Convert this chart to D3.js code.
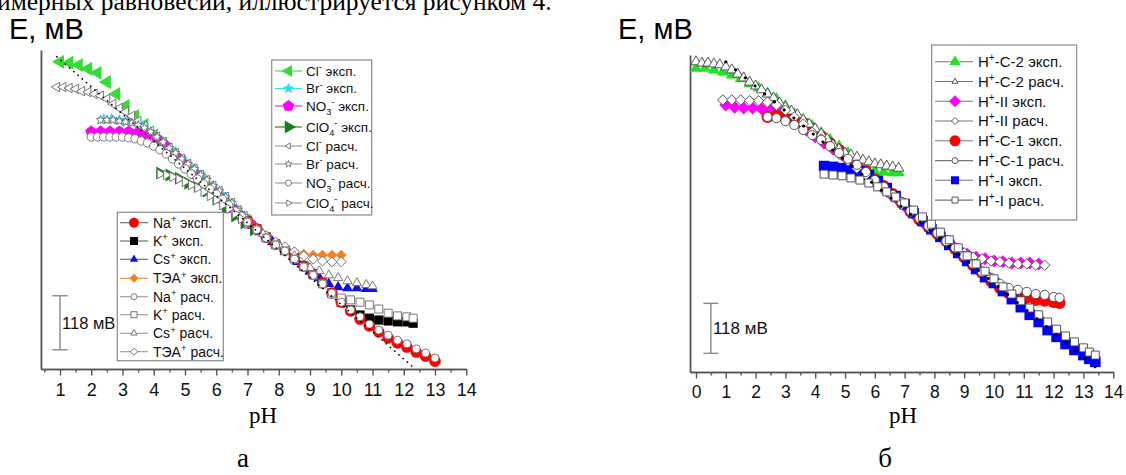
<!DOCTYPE html>
<html><head><meta charset="utf-8">
<script src="https://cdn.jsdelivr.net/npm/d3@7"></script>
<style>body{margin:0;background:#fff;} svg{display:block;}</style>
</head><body>
<svg id="c" width="1126" height="475"></svg>
<script>
// ---------- texts ----------
const captionText = "имерных равновесий, иллюстрируется рисунком 4.";
const yTitle = "E, мВ";
const xTitle = "pH";
const panelA = "а", panelB = "б";
const barLabel = "118 мВ";
const barLen = 118;
const ticksA = [1,2,3,4,5,6,7,8,9,10,11,12,13,14];
const ticksB = [0,1,2,3,4,5,6,7,8,9,10,11,12,13,14];

// ---------- chart а : anions ----------
const phA_Cl_exp = [1.0,1.3,1.6,1.9,2.2,2.5,2.8,3.1,3.4,3.7,4.0,4.3,4.6,4.9,5.2,5.5,5.8,6.1,6.4,6.7,7.0];
const eA_Cl_exp  = [671,669,664,656,647,627,601,575,553,533,511,492,472,452,435,417,398,378,358,341,323];
const phA_Br_exp = [2.4,2.65,2.9,3.15,3.4,3.65,3.9,4.15,4.4,4.65,4.9,5.15,5.4,5.65,5.9,6.15,6.4,6.65,6.9];
const eA_Br_exp  = [546,546,544,542,540,531,518,503,487,472,457,444,430,415,398,382,367,350,334];
const phA_NO3_exp = [2.0,2.3,2.6,2.9,3.2,3.5,3.8,4.1,4.4,4.7,5.0,5.3,5.6,5.9,6.2,6.5,6.8,7.1];
const eA_NO3_exp  = [518,518,518,518,518,516,511,503,487,465,446,426,406,389,371,352,334,317];
const phA_ClO4_exp = [4.2,4.5,4.8,5.1,5.4,5.7,6.0,6.3,6.6,6.9,7.2];
const eA_ClO4_exp  = [428,424,417,406,400,389,371,352,334,319,304];
const phA_Cl_calc = [0.9,1.1,1.3,1.5,1.7,1.9,2.1,2.3,2.5,2.7,2.9,3.1,3.3,3.5,3.7,3.9,4.1,4.3,4.5,4.7,4.9,5.1,5.3,5.5,5.7,5.9,6.1,6.3,6.5,6.7,6.9];
const eA_Cl_calc  = [616,616,614,612,607,605,601,597,590,579,570,562,553,542,531,520,507,496,483,472,459,448,437,424,413,400,389,376,363,347,334];
const phA_Br_calc = [2.3,2.5,2.7,2.9,3.1,3.3,3.5,3.7,3.9,4.1,4.3,4.5,4.7,4.9,5.1,5.3,5.5,5.7,5.9,6.1,6.3,6.5,6.7,6.9];
const eA_Br_calc  = [544,544,544,542,540,538,533,527,518,507,496,483,472,459,448,437,424,413,400,389,376,363,347,334];
const phA_NO3_calc = [2.0,2.2,2.4,2.6,2.8,3.0,3.2,3.4,3.6,3.8,4.0,4.2,4.4,4.6,4.8,5.0,5.2,5.4,5.6,5.8,6.0,6.2,6.4,6.6,6.8,7.0];
const eA_NO3_calc  = [507,507,507,507,507,507,505,503,498,494,487,479,470,459,448,437,426,415,404,393,382,371,358,345,334,321];
const phA_ClO4_calc = [4.2,4.4,4.6,4.8,5.0,5.2,5.4,5.6,5.8,6.0,6.2,6.4,6.6,6.8,7.0];
const eA_ClO4_calc  = [426,424,420,415,409,402,396,387,378,369,358,350,339,328,317];

// ---------- chart а : cations ----------
const phA_Na_exp = [7.0,7.3,7.6,7.9,8.2,8.5,8.8,9.1,9.4,9.7,10.0,10.3,10.6,10.9,11.2,11.5,11.8,12.1,12.4,12.7,13.0];
const eA_Na_exp  = [323,306,288,273,260,243,225,208,188,166,146,127,109,94,81,68,57,48,37,28,17];
const phA_K_exp = [7.0,7.3,7.6,7.9,8.2,8.5,8.8,9.1,9.4,9.7,10.0,10.3,10.6,10.9,11.2,11.5,11.8,12.1,12.3];
const eA_K_exp  = [323,306,288,273,260,243,225,208,188,166,146,129,118,111,107,105,103,103,100];
const phA_Cs_exp = [7.0,7.4,7.8,8.2,8.6,9.0,9.3,9.6,9.9,10.2,10.5,10.8,11.0];
const eA_Cs_exp  = [323,299,278,256,234,214,199,186,179,177,177,175,175];
const phA_TEA_exp = [7.0,7.3,7.6,7.9,8.2,8.5,8.8,9.1,9.4,9.7,10.0];
const eA_TEA_exp  = [323,308,291,275,264,256,251,249,249,249,249];
const phA_Na_calc = [7.0,7.3,7.6,7.9,8.2,8.5,8.8,9.1,9.4,9.7,10.0,10.3,10.6,10.9,11.2,11.5,11.8,12.1,12.4,12.7,13.0];
const eA_Na_calc  = [321,304,286,271,258,240,223,205,186,166,146,129,114,98,85,74,63,55,44,35,24];
const phA_K_calc = [7.0,7.3,7.6,7.9,8.2,8.5,8.8,9.1,9.4,9.7,10.0,10.3,10.6,10.9,11.2,11.5,11.8,12.1,12.3];
const eA_K_calc  = [321,304,286,271,258,240,223,205,186,164,155,151,146,140,131,122,116,114,111];
const phA_Cs_calc = [7.0,7.5,8.0,8.5,9.0,9.3,9.6,9.9,10.2,10.5,10.8,11.0];
const eA_Cs_calc  = [321,295,271,247,221,214,205,199,192,188,184,181];
const phA_TEA_calc = [7.0,7.3,7.6,7.9,8.2,8.5,8.8,9.1,9.4,9.7,10.0];
const eA_TEA_calc  = [323,306,291,277,267,256,247,240,236,234,234];
const phA_nernst = [0.9, 12.3];
const eA_nernst  = [682, 4];

// ---------- chart б ----------
const phB_C2_exp = [0.0,0.3,0.6,0.9,1.2,1.5,1.8,2.1,2.4,2.7,3.0,3.3,3.6,3.9,4.2,4.5,4.8,5.1,5.4,5.7,6.0,6.3,6.6,6.8];
const eB_C2_exp  = [717,717,713,708,701,692,680,670,658,644,628,609,595,581,564,548,533,517,498,484,474,472,470,470];
const phB_C2_calc = [0.0,0.2,0.4,0.6,0.8,1.0,1.2,1.4,1.6,1.8,2.0,2.2,2.4,2.6,2.8,3.0,3.2,3.4,3.6,3.8,4.0,4.2,4.4,4.6,4.8,5.0,5.2,5.4,5.6,5.8,6.0,6.2,6.4,6.6,6.8];
const eB_C2_calc  = [732,729,729,727,725,720,713,703,694,684,675,666,656,647,635,625,616,607,595,585,574,562,550,536,526,517,512,507,500,496,491,489,486,484,481];
const phB_II_exp = [1.0,1.3,1.6,1.9,2.2,2.5,2.8,3.1,3.4,3.7,4.0,4.3,4.6,4.9,5.2,5.5,5.8,6.1,6.4,6.7,7.0,7.3,7.6,7.9,8.2,8.5,8.8,9.1,9.4,9.7,10.0,10.3,10.6,10.9,11.2,11.5];
const eB_II_exp  = [630,625,623,623,621,618,611,602,588,571,555,540,526,512,496,479,463,444,427,411,392,373,354,337,321,304,290,278,271,267,262,260,257,257,257,255];
const phB_II_calc = [0.9,1.2,1.5,1.8,2.1,2.4,2.7,3.0,3.3,3.6,3.9,4.2,4.5,4.8,5.1,5.4,5.7,6.0,6.3,6.6,6.9,7.2,7.5,7.8,8.1,8.4,8.7,9.0,9.3,9.6,9.9,10.2,10.5,10.8,11.1,11.4,11.7];
const eB_II_calc  = [642,642,642,640,640,637,630,618,602,585,566,550,531,514,498,481,465,448,430,413,396,378,361,342,326,309,293,281,271,267,262,260,257,255,255,252,252];
const phB_C1_exp = [2.4,2.7,3.0,3.3,3.6,3.9,4.2,4.5,4.8,5.1,5.4,5.7,6.0,6.3,6.6,6.9,7.2,7.5,7.8,8.1,8.4,8.7,9.0,9.3,9.6,9.9,10.2,10.5,10.8,11.1,11.4,11.7,12.0,12.2];
const eB_C1_exp  = [602,604,604,597,588,574,557,540,524,505,491,474,455,439,420,399,378,359,342,326,309,290,271,252,234,215,198,186,179,175,170,168,165,163];
const phB_C1_calc = [2.4,2.7,3.0,3.3,3.6,3.9,4.2,4.5,4.8,5.1,5.4,5.7,6.0,6.3,6.6,6.9,7.2,7.5,7.8,8.1,8.4,8.7,9.0,9.3,9.6,9.9,10.2,10.5,10.8,11.1,11.4,11.7,12.0,12.2];
const eB_C1_calc  = [602,599,592,583,571,559,548,533,517,503,489,472,453,437,418,401,380,363,345,328,309,293,274,255,236,222,208,198,194,189,184,182,177,175];
const phB_I_exp = [4.3,4.6,4.9,5.2,5.5,5.8,6.1,6.4,6.7,7.0,7.3,7.6,7.9,8.2,8.5,8.8,9.1,9.4,9.7,10.0,10.3,10.6,10.9,11.2,11.5,11.8,12.1,12.4,12.7,13.0,13.2,13.4];
const eB_I_exp  = [486,484,481,479,474,465,451,434,415,396,375,356,337,319,300,281,262,243,224,210,191,172,153,135,118,99,83,66,52,40,31,24];
const phB_I_calc = [4.3,4.6,4.9,5.2,5.5,5.8,6.1,6.4,6.7,7.0,7.3,7.6,7.9,8.2,8.5,8.8,9.1,9.4,9.7,10.0,10.3,10.6,10.9,11.2,11.5,11.8,12.1,12.4,12.7,13.0,13.2,13.4];
const eB_I_calc  = [467,465,463,458,453,446,437,425,413,399,382,366,349,330,312,293,274,255,238,220,201,184,168,151,135,118,101,85,71,57,47,40];
const phB_nernst = [1.0, 13.4];
const eB_nernst  = [732, 12];

// legend labels (^ = superscript char, _ = subscript char)
const legAnions = ["Cl^- эксп.","Br^- эксп.","NO_3^- эксп.","ClO_4^- эксп.","Cl^- расч.","Br^- расч.","NO_3^- расч.","ClO_4^- расч."];
const legCations = ["Na^+ эксп.","K^+ эксп.","Cs^+ эксп.","ТЭА^+ эксп.","Na^+ расч.","K^+ расч.","Cs^+ расч.","ТЭА^+ расч."];
const legB = ["H^+-C-2 эксп.","H^+-C-2 расч.","H^+-II эксп.","H^+-II расч.","H^+-C-1 эксп.","H^+-C-1 расч.","H^+-I эксп.","H^+-I расч."];

// ---------- drawing ----------
const SANS = "'Liberation Sans', Arial, sans-serif";
const SERIF = "'Liberation Serif', 'Times New Roman', serif";
const svg = d3.select("#c");
svg.append("rect").attr("width",1126).attr("height",475).attr("fill","#fff");
svg.append("text").attr("x",-3).attr("y",10).attr("font-family",SERIF).attr("font-size",25.5).attr("fill","#000").text(captionText);

function poly(n, r, a0, inner) {
  const pts = [];
  const m = inner ? n*2 : n;
  for (let i=0;i<m;i++){
    const a = (a0 + i*360/m) * Math.PI/180;
    const rr = inner && (i%2===1) ? r*inner : r;
    pts.push([rr*Math.cos(a), rr*Math.sin(a)]);
  }
  return "M" + pts.map(p=>p[0].toFixed(2)+","+p[1].toFixed(2)).join("L") + "Z";
}
function symbolPath(shape, r) {
  switch(shape){
    case "circle": return `M${r},0A${r},${r} 0 1,1 ${-r},0A${r},${r} 0 1,1 ${r},0Z`;
    case "square": return `M${-r},${-r}H${r}V${r}H${-r}Z`;
    case "diamond": return `M0,${-r}L${r},0L0,${r}L${-r},0Z`;
    case "triUp": return poly(3, r, -90);
    case "triLeft": return poly(3, r, 180);
    case "triRight": return poly(3, r, 0);
    case "pentagon": return poly(5, r, -90);
    case "star": return poly(5, r, -90, 0.45);
  }
}
function richText(sel, str, fs) {
  const parts = [];
  for (let i=0;i<str.length;i++){
    const c = str[i];
    if (c==='^' || c==='_') { parts.push({t:str[i+1], m:c}); i++; }
    else if (parts.length && !parts[parts.length-1].m) parts[parts.length-1].t += c;
    else parts.push({t:c, m:null});
  }
  let shift = 0;
  parts.forEach(p => {
    const target = p.m==='^' ? -0.4*fs : p.m==='_' ? 0.28*fs : 0;
    sel.append("tspan").attr("dy", target - shift).attr("font-size", p.m ? fs*0.68 : fs).text(p.t);
    shift = target;
  });
}

function drawChart(cfg) {
  const g = svg.append("g");
  const x = d3.scaleLinear().domain([0,14]).range(cfg.xRange);
  const y = d3.scaleLinear().domain(cfg.yDomain).range(cfg.yRange);
  const axisColor = "#555";
  const xa = d3.scaleLinear().domain([cfg.xStart,14]).range([x(cfg.xStart), x(14)]);
  const minors = cfg.ticks.slice(0,-1).map(t=>t+0.5).concat(cfg.ticks[0]>0.6 ? [cfg.ticks[0]-0.5] : []);
  const gm = g.append("g").attr("transform",`translate(0,${y(0)})`)
    .call(d3.axisBottom(xa).tickValues(minors).tickSize(3.5).tickSizeOuter(0).tickFormat(""));
  const gx = g.append("g").attr("transform",`translate(0,${y(0)})`)
    .call(d3.axisBottom(xa).tickValues(cfg.ticks).tickSize(6.5).tickSizeOuter(0).tickPadding(cfg.tickPad).tickFormat(d3.format("d")));
  [gm,gx].forEach(a=>{ a.selectAll("path,line").attr("stroke",axisColor).attr("stroke-width",1.4); });
  gx.selectAll("text").attr("font-family",SANS).attr("font-size",cfg.tickFont).attr("fill","#111");
  const ya = d3.scaleLinear().domain([0,cfg.yTop]).range([y(0), y(cfg.yTop)]);
  const gy = g.append("g").attr("transform",`translate(${xa.range()[0]},0)`)
    .call(d3.axisLeft(ya).tickValues([]).tickSizeOuter(0));
  gy.select("path").attr("stroke",axisColor).attr("stroke-width",1.8);

  // titles
  g.append("text").attr("x",cfg.yTitlePos[0]).attr("y",cfg.yTitlePos[1]).attr("font-family",SANS).attr("font-size",29).text(yTitle);
  g.append("text").attr("x",cfg.xTitlePos[0]).attr("y",cfg.xTitlePos[1]).attr("text-anchor","middle").attr("font-family",SERIF).attr("font-size",23).text(xTitle);
  g.append("text").attr("x",cfg.panelPos[0]).attr("y",cfg.panelPos[1]).attr("text-anchor","middle").attr("font-family",SERIF).attr("font-size",27).text(cfg.panel);

  // scale bar
  const bx = x(cfg.bar.ph), by0 = y(cfg.bar.e0), by1 = y(cfg.bar.e0 + barLen);
  const sb = g.append("g").attr("stroke","#888").attr("stroke-width",1.4);
  sb.append("line").attr("x1",bx).attr("x2",bx).attr("y1",by0).attr("y2",by1);
  sb.append("line").attr("x1",bx-7.5).attr("x2",bx+7.5).attr("y1",by0).attr("y2",by0);
  sb.append("line").attr("x1",bx-7.5).attr("x2",bx+7.5).attr("y1",by1).attr("y2",by1);
  g.append("text").attr("x",bx+cfg.bar.dx).attr("y",(by0+by1)/2+6).attr("font-family",SANS).attr("font-size",cfg.bar.fs).attr("fill","#111").text(barLabel);

  // series
  cfg.series.forEach(s => {
    g.append("g").selectAll("path").data(s.ph.map((p,i)=>[p, s.e[i]])).join("path")
      .attr("transform", d=>`translate(${x(d[0])},${y(d[1])})`)
      .attr("d", symbolPath(s.shape, s.r))
      .attr("fill", s.fill).attr("stroke", s.stroke || "none").attr("stroke-width", s.sw || 0);
  });
  // Nernst dotted line
  const ln = d3.line().x(d=>x(d[0])).y(d=>y(d[1]));
  g.append("path").datum(cfg.nernst.ph.map((p,i)=>[p, cfg.nernst.e[i]]))
    .attr("d", ln).attr("fill","none").attr("stroke","#000")
    .attr("stroke-width", cfg.nernst.w).attr("stroke-linecap","round")
    .attr("stroke-dasharray", cfg.nernst.dash);

  // legends
  cfg.legends.forEach(L => {
    const lg = g.append("g");
    lg.append("rect").attr("x",L.box[0]).attr("y",L.box[1]).attr("width",L.box[2]).attr("height",L.box[3])
      .attr("fill","#fff").attr("stroke","#8a8a8a").attr("stroke-width",1.2);
    L.items.forEach((it, i) => {
      const ry = L.rows[i];
      lg.append("line").attr("x1",L.lx[0]).attr("x2",L.lx[1]).attr("y1",ry).attr("y2",ry)
        .attr("stroke", it.line).attr("stroke-width",1.1);
      lg.append("path").attr("transform",`translate(${L.mx},${ry})`).attr("d", symbolPath(it.s.shape, it.lr))
        .attr("fill", it.s.fill).attr("stroke", it.s.stroke || "none").attr("stroke-width", it.s.sw || 0);
      const t = lg.append("text").attr("x",L.tx).attr("y",ry+L.fs*0.36).attr("font-family",SANS).attr("font-size",L.fs).attr("fill","#111");
      richText(t, it.label, L.fs);
    });
  });
}

const GREEN="#33dd33", CYAN="#33dfee", MAG="#ff00ff", DGREEN="#157f15", RED="#ff0000", BLACK="#000", BLUE="#1010e6", ORANGE="#f5821f";
const calcA = {fill:"#fff", stroke:"#6a6a6a", sw:0.9};
const calcB = {fill:"#fff", stroke:"#444", sw:0.9};

// chart а series
const sA_Cl = {ph:phA_Cl_exp, e:eA_Cl_exp, shape:"triLeft", r:8, fill:GREEN};
const sA_Br = {ph:phA_Br_exp, e:eA_Br_exp, shape:"star", r:6.5, fill:CYAN};
const sA_NO3 = {ph:phA_NO3_exp, e:eA_NO3_exp, shape:"pentagon", r:6.3, fill:MAG};
const sA_ClO4 = {ph:phA_ClO4_exp, e:eA_ClO4_exp, shape:"triRight", r:7.5, fill:DGREEN};
const sA_Na = {ph:phA_Na_exp, e:eA_Na_exp, shape:"circle", r:5.8, fill:RED};
const sA_K = {ph:phA_K_exp, e:eA_K_exp, shape:"square", r:4.6, fill:BLACK};
const sA_Cs = {ph:phA_Cs_exp, e:eA_Cs_exp, shape:"triUp", r:6.3, fill:BLUE};
const sA_TEA = {ph:phA_TEA_exp, e:eA_TEA_exp, shape:"diamond", r:5.3, fill:ORANGE};
const cA_Cl = {ph:phA_Cl_calc, e:eA_Cl_calc, shape:"triLeft", r:5.5, ...calcA};
const cA_Br = {ph:phA_Br_calc, e:eA_Br_calc, shape:"star", r:4.5, ...calcA};
const cA_NO3 = {ph:phA_NO3_calc, e:eA_NO3_calc, shape:"circle", r:4.2, ...calcA};
const cA_ClO4 = {ph:phA_ClO4_calc, e:eA_ClO4_calc, shape:"triRight", r:5.5, ...calcA};
const cA_Na = {ph:phA_Na_calc, e:eA_Na_calc, shape:"circle", r:4, ...calcA};
const cA_K = {ph:phA_K_calc, e:eA_K_calc, shape:"square", r:4, ...calcA};
const cA_Cs = {ph:phA_Cs_calc, e:eA_Cs_calc, shape:"triUp", r:5.3, ...calcA};
const cA_TEA = {ph:phA_TEA_calc, e:eA_TEA_calc, shape:"diamond", r:5, ...calcA};

const rowsAn = [71, 88.5, 106, 127, 146, 164, 183, 203];
const rowsCat = [222.7, 241, 259.3, 278.3, 296.7, 314.7, 333.3, 351.7];
drawChart({
  xRange:[28.75, 466.25], xStart:0.39, yDomain:[0,700], yRange:[369, 48.6], yTop:697,
  ticks:ticksA, tickFont:18, tickPad:8,
  yTitlePos:[9,39], xTitlePos:[263,423], panelPos:[243,467], panel:panelA,
  bar:{ph:1.0, e0:42, dx:2, fs:16.5},
  series:[sA_Cl, sA_Br, sA_NO3, sA_ClO4, sA_TEA, sA_Cs, sA_K, sA_Na, cA_Cl, cA_Br, cA_NO3, cA_ClO4, cA_TEA, cA_Cs, cA_K, cA_Na],
  nernst:{ph:phA_nernst, e:eA_nernst, w:1.7, dash:"0.1,5.5"},
  legends:[
    {box:[271.7,60,100,155], rows:rowsAn, lx:[275,302], mx:288.5, tx:306, fs:13.5,
     items:[
      {s:sA_Cl, lr:7, line:GREEN, label:legAnions[0]},
      {s:sA_Br, lr:6, line:CYAN, label:legAnions[1]},
      {s:sA_NO3, lr:6, line:MAG, label:legAnions[2]},
      {s:sA_ClO4, lr:7.5, line:DGREEN, label:legAnions[3]},
      {s:cA_Cl, lr:3.5, line:"#999", label:legAnions[4]},
      {s:cA_Br, lr:3.5, line:"#999", label:legAnions[5]},
      {s:cA_NO3, lr:3, line:"#999", label:legAnions[6]},
      {s:cA_ClO4, lr:3.5, line:"#999", label:legAnions[7]}]},
    {box:[117.3,212.3,106,148.4], rows:rowsCat, lx:[120,148], mx:134, tx:153, fs:14,
     items:[
      {s:sA_Na, lr:5, line:"#666", label:legCations[0]},
      {s:sA_K, lr:4, line:"#666", label:legCations[1]},
      {s:sA_Cs, lr:4.8, line:"#666", label:legCations[2]},
      {s:sA_TEA, lr:4.5, line:ORANGE, label:legCations[3]},
      {s:cA_Na, lr:3, line:"#999", label:legCations[4]},
      {s:cA_K, lr:3, line:"#999", label:legCations[5]},
      {s:cA_Cs, lr:3.5, line:"#999", label:legCations[6]},
      {s:cA_TEA, lr:3.5, line:"#999", label:legCations[7]}]}
  ]
});

// chart б series
const sB_C2 = {ph:phB_C2_exp, e:eB_C2_exp, shape:"triUp", r:7, fill:"#1ee61e"};
const sB_II = {ph:phB_II_exp, e:eB_II_exp, shape:"diamond", r:6.5, fill:MAG};
const sB_C1 = {ph:phB_C1_exp, e:eB_C1_exp, shape:"circle", r:6, fill:RED};
const sB_I = {ph:phB_I_exp, e:eB_I_exp, shape:"square", r:5.3, fill:"#0000ff"};
const cB_C2 = {ph:phB_C2_calc, e:eB_C2_calc, shape:"triUp", r:6, ...calcB};
const cB_II = {ph:phB_II_calc, e:eB_II_calc, shape:"diamond", r:5.2, ...calcB};
const cB_C1 = {ph:phB_C1_calc, e:eB_C1_calc, shape:"circle", r:4.6, ...calcB};
const cB_I = {ph:phB_I_calc, e:eB_I_calc, shape:"square", r:4, ...calcB};
const rowsB = [61.7, 81.5, 101.3, 121, 140.8, 160.6, 180.3, 200.1];
drawChart({
  xRange:[696, 1113.2], xStart:-0.2, yDomain:[0,750], yRange:[372, 54.2], yTop:748,
  ticks:ticksB, tickFont:17.5, tickPad:7,
  yTitlePos:[618,39], xTitlePos:[903,423], panelPos:[885,467], panel:panelB,
  bar:{ph:0.5, e0:44, dx:2, fs:17},
  series:[sB_C2, sB_II, sB_C1, sB_I, cB_C2, cB_II, cB_C1, cB_I],
  nernst:{ph:phB_nernst, e:eB_nernst, w:3, dash:"0.1,12.5"},
  legends:[
    {box:[931.7,45,145,175], rows:rowsB, lx:[935,973], mx:955, tx:978, fs:15,
     items:[
      {s:sB_C2, lr:6.5, line:"#777", label:legB[0]},
      {s:cB_C2, lr:3.5, line:"#777", label:legB[1]},
      {s:sB_II, lr:6, line:"#777", label:legB[2]},
      {s:cB_II, lr:3.5, line:"#777", label:legB[3]},
      {s:sB_C1, lr:5.5, line:"#777", label:legB[4]},
      {s:cB_C1, lr:3, line:"#777", label:legB[5]},
      {s:sB_I, lr:4, line:"#777", label:legB[6]},
      {s:cB_I, lr:3, line:"#777", label:legB[7]}]}
  ]
});
</script>
</body></html>
